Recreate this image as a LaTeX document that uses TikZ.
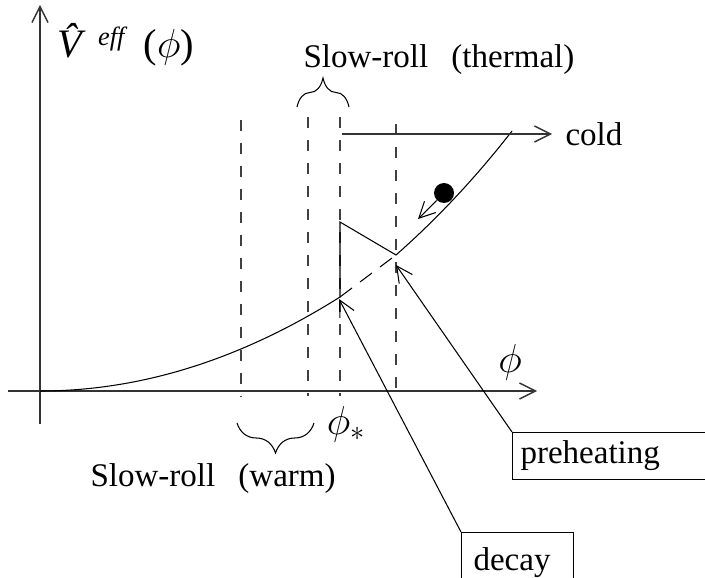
\RequirePackage{fix-cm}
\documentclass[tikz,border=0pt]{standalone}
\usepackage{fontspec}
\setmainfont{Liberation Serif}
\usetikzlibrary{arrows.meta,decorations.pathreplacing}

\tikzset{
  arr/.style={-{Straight Barb[length=3.2mm,width=3.2mm]}},
  axis/.style={black!80, line width=0.8pt},
  guide/.style={black!75, line width=0.7pt, dash pattern=on 0.22cm off 0.24cm},
  lbl/.style={inner sep=0pt, font=\fontsize{18.8}{22}\selectfont},
  greek/.style={inner sep=0pt, font=\fontsize{23}{26}\selectfont},
  tagbox/.style={draw, line width=0.6pt, anchor=north west, align=left,
    inner ysep=0pt, font=\fontsize{18.8}{22}\selectfont},
  brc/.style={decorate, line width=0.6pt}
}

\begin{document}
\begin{tikzpicture}[x=0.02cm, y=-0.02cm, line width=0.6pt]
  \useasboundingbox (0,0) rectangle (705,577);

  % Axes
  \coordinate (O) at (40,391);
  \coordinate (xstart) at (8,391);
  \coordinate (xend) at (537,391);
  \coordinate (ystart) at (40,424);
  \coordinate (yend) at (40,5);
  \draw[axis, arr] (xstart) -- (xend);
  \draw[axis, arr] (ystart) -- (yend);

  % Labels
  \node[greek, anchor=base west] (Vlab) at (57,58)
    {\textit{\^{V}}\kern0.02em\raisebox{0.3em}{\fontsize{15}{17}\selectfont\textit{eff}}\hspace{0.4em}($\phi$)};
  \node[greek] (philab) at (510,362) {$\phi$};
  \node[greek] (phistar) at (346,424) {$\phi_*$};
  \node[lbl, anchor=base west] (thermal) at (303,68) {Slow-roll\hspace{0.45em} (thermal)};
  \node[lbl, anchor=base west] (warm) at (90,486) {Slow-roll\hspace{0.45em} (warm)};
  \node[lbl, anchor=base west] (cold) at (565,146) {cold};

  % Dashed lines
  \foreach \x/\top in {241/120, 308/117, 340/117, 396/124}
    \draw[guide] (\x,\top) -- (\x,396);

  % Braces
  \draw[brc, decoration={brace, amplitude=0.58cm}] (297,107) -- (349,107);
  \draw[brc, decoration={brace, amplitude=0.6cm}] (314,423) -- (237,423);

  % Points
  \coordinate (A) at (340,297);
  \coordinate (B) at (340,222);
  \coordinate (C) at (396,255);
  \coordinate (D) at (512,131);

  % Potential
  \draw (O) .. controls (140,391) and (240,360) .. (A) -- (B) -- (C)
    .. controls (438,218) and (477,176) .. (D);
  \draw[dash pattern=on 0.3cm off 0.2cm] (A) -- (C);

  % Cold branch
  \coordinate (coldstart) at (342,134);
  \coordinate (coldtip) at (552,134);
  \draw[axis, arr] (coldstart) -- (coldtip);

  % Rolling ball
  \node[circle, fill, inner sep=0pt, minimum size=0.4cm] (ball) at (444,193) {};
  \coordinate (balltip) at (418,219);
  \draw[arr] (ball) -- (balltip);

  % Boxes
  \node[tagbox, text width=3.8cm, inner xsep=0.16cm, minimum height=0.94cm] (preheat) at (512,432) {preheating};
  \node[tagbox, text width=1.76cm, inner xsep=0.24cm, minimum height=1.22cm] (decay) at (461,532) {decay};
  \coordinate (preheattip) at (396,265);
  \coordinate (decaytip) at (339,299);
  \draw[arr] (preheat.north west) -- (preheattip);
  \draw[arr] (decay.north west) -- (decaytip);
\end{tikzpicture}
\end{document}
